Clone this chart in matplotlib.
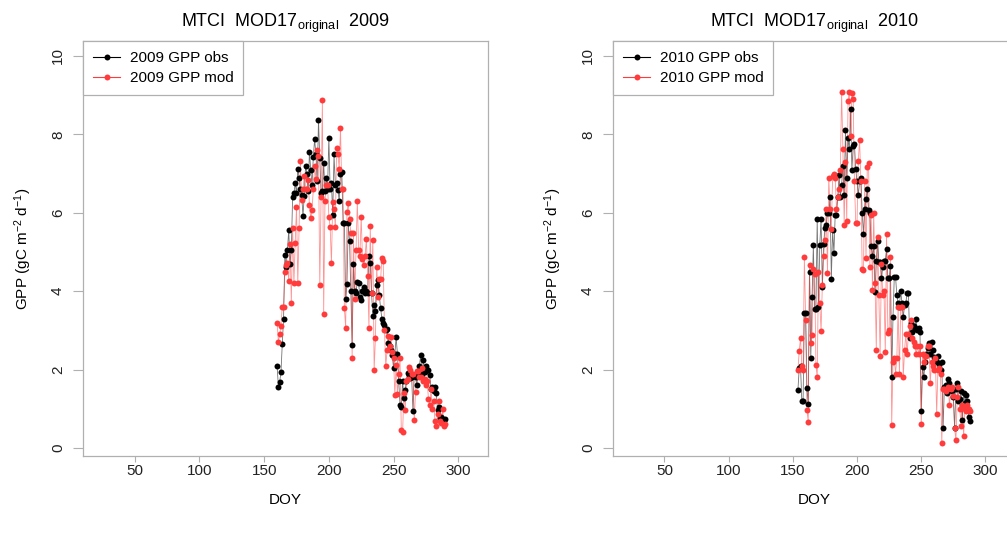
import matplotlib
matplotlib.use("Agg")
import matplotlib.pyplot as plt
import numpy as np

plt.rcParams['font.family'] = ['Liberation Sans', 'DejaVu Sans']
plt.rcParams['mathtext.fontset'] = 'custom'
plt.rcParams['mathtext.rm'] = 'Liberation Sans'
plt.rcParams['mathtext.it'] = 'Liberation Sans:italic'

# ---- 2009: daily GPP, DOY 160..290 ----
start2009 = 160
obs2009 = [
    2.10, 1.56, 1.69, 1.93, 2.65, 3.30, 4.92, 4.63, 5.05, 5.56,   # 160
    4.70, 5.05, 6.40, 6.50, 6.75, 6.50, 7.13, 6.90, 6.60, 6.45,   # 170
    5.92, 6.43, 7.20, 7.00, 6.55, 7.56, 7.10, 6.70, 7.43, 7.87,   # 180
    7.50, 6.80, 8.37, 7.39, 6.50, 6.55, 7.26, 6.55, 6.90, 6.60,   # 190
    7.92, 6.60, 6.75, 5.95, 7.49, 6.70, 6.75, 6.58, 6.31, 7.00,   # 200
    7.05, 5.73, 5.75, 3.79, 4.18, 5.73, 5.27, 4.00, 2.64, 4.69,   # 210
    4.00, 3.96, 4.24, 4.20, 3.86, 3.77, 4.00, 4.10, 3.95, 4.00,   # 220
    3.95, 4.90, 4.71, 3.95, 3.38, 3.65, 3.50, 4.15, 4.29, 3.90,   # 230
    3.56, 3.30, 3.18, 3.14, 3.01, 3.03, 2.67, 2.60, 2.50, 2.37,   # 240
    2.03, 2.40, 2.82, 2.40, 1.72, 1.10, 1.05, 1.72, 1.27, 1.48,   # 250
    1.72, 1.91, 1.85, 1.78, 1.80, 0.95, 1.85, 1.80, 1.61, 1.90,   # 260
    2.10, 2.37, 1.90, 2.25, 1.95, 2.10, 2.00, 2.00, 1.85, 1.50,   # 270
    1.55, 1.45, 1.55, 1.40, 0.97, 1.05, 0.76, 0.80, 0.75, 0.72,   # 280
    0.75,                                                         # 290
]
mod2009 = [
    3.20, 2.71, 2.90, 3.12, 3.60, 3.60, 4.48, 4.67, 4.71, 4.27,   # 160
    5.20, 3.69, 5.60, 4.20, 5.24, 6.16, 4.20, 5.60, 7.32, 6.33,   # 170
    6.60, 6.94, 6.60, 6.60, 6.84, 6.20, 5.86, 6.07, 6.60, 7.20,   # 180
    6.85, 7.60, 7.45, 4.16, 6.41, 8.88, 3.43, 6.30, 6.70, 6.70,   # 190
    5.90, 5.64, 4.71, 6.27, 6.10, 5.65, 7.66, 7.50, 7.13, 8.17,   # 200
    6.60, 6.60, 3.56, 3.07, 6.03, 6.24, 5.83, 5.49, 2.29, 5.49,   # 210
    3.79, 5.05, 6.30, 5.05, 4.90, 5.90, 4.83, 4.67, 4.90, 5.32,   # 220
    4.40, 3.05, 5.67, 3.95, 5.30, 1.99, 2.80, 4.62, 3.86, 4.30,   # 230
    4.30, 4.85, 4.78, 3.01, 2.09, 2.49, 2.85, 2.60, 2.82, 2.45,   # 240
    2.30, 1.35, 2.12, 1.38, 1.88, 2.30, 0.46, 0.40, 1.41, 0.97,   # 250
    1.70, 1.75, 2.07, 2.00, 1.90, 1.90, 0.71, 1.44, 1.97, 1.97,   # 260
    1.82, 1.82, 2.05, 1.70, 1.75, 1.60, 1.70, 1.25, 1.10, 1.50,   # 270
    1.00, 1.20, 0.70, 0.55, 0.86, 1.20, 0.70, 0.65, 1.00, 0.55,   # 280
    0.60,                                                         # 290
]

# ---- 2010: daily GPP, DOY 154..288 ----
start2010 = 154
obs2010 = [
    1.48, 2.05, 2.09, 1.20, 1.20, 3.44, 3.44, 1.52, 1.11, 4.50,   # 154
    2.29, 3.86, 5.18, 3.55, 3.55, 5.84, 3.60, 5.18, 5.84, 4.10,   # 164
    5.20, 5.60, 5.70, 5.99, 5.99, 6.40, 4.31, 5.55, 4.97, 5.95,   # 174
    5.95, 6.40, 6.96, 6.40, 6.70, 7.20, 6.45, 8.11, 6.90, 7.90,   # 184
    7.62, 8.64, 7.10, 7.70, 7.75, 7.11, 6.80, 6.45, 6.80, 6.90,   # 194
    6.00, 5.46, 6.10, 6.35, 6.60, 6.07, 6.00, 5.15, 4.90, 5.15,   # 204
    3.97, 4.77, 5.29, 4.75, 4.75, 4.33, 4.61, 4.78, 4.78, 5.07,   # 214
    4.33, 4.33, 4.65, 1.80, 3.33, 4.36, 4.36, 3.90, 3.70, 3.60,   # 224
    4.01, 3.70, 3.33, 3.65, 3.70, 3.96, 3.96, 2.80, 3.20, 2.97,   # 234
    3.10, 3.05, 3.28, 3.00, 3.05, 2.97, 0.95, 2.07, 1.80, 2.20,   # 244
    2.40, 2.55, 2.68, 2.40, 2.70, 2.50, 2.32, 2.30, 2.20, 2.35,   # 254
    2.15, 2.00, 2.20, 0.50, 1.55, 1.60, 1.40, 1.75, 1.65, 1.53,   # 264
    1.45, 1.30, 0.50, 1.50, 1.67, 1.20, 1.25, 1.45, 0.71, 1.40,   # 274
    1.15, 1.35, 1.20, 0.80, 0.70,                                 # 284
]
mod2010 = [
    2.00, 2.48, 2.81, 2.10, 2.00, 4.88, 3.27, 0.97, 0.67, 4.67,   # 154
    2.67, 2.88, 4.56, 4.45, 2.13, 1.80, 4.50, 3.69, 2.99, 4.16,   # 164
    4.90, 5.30, 6.10, 4.47, 6.90, 6.10, 5.58, 6.95, 7.00, 6.90,   # 174
    6.10, 6.41, 6.60, 7.10, 9.09, 7.62, 5.69, 7.30, 5.80, 8.86,   # 184
    9.09, 7.95, 9.06, 8.90, 6.80, 5.73, 5.75, 7.33, 7.86, 6.80,   # 194
    4.56, 4.54, 6.80, 4.84, 7.18, 7.26, 4.63, 5.94, 4.03, 6.00,   # 204
    4.20, 2.50, 5.39, 3.90, 2.35, 4.70, 3.90, 4.00, 2.46, 5.46,   # 214
    2.94, 3.00, 4.86, 0.59, 2.20, 2.30, 1.90, 2.30, 3.60, 1.90,   # 224
    3.60, 3.60, 1.80, 2.50, 2.90, 2.40, 2.90, 3.10, 3.27, 2.80,   # 234
    2.70, 2.60, 2.40, 2.60, 2.40, 2.60, 0.60, 2.40, 2.20, 2.35,   # 244
    2.35, 2.60, 2.60, 1.65, 2.20, 2.10, 2.00, 2.30, 0.88, 2.00,   # 254
    2.05, 1.90, 0.12, 1.50, 1.50, 1.45, 1.50, 1.55, 1.10, 1.50,   # 264
    1.55, 1.33, 0.50, 0.20, 1.30, 1.55, 1.00, 0.55, 1.10, 0.31,   # 274
    1.00, 0.95, 1.10, 1.00, 0.95,                                 # 284
]

xticks = [50, 100, 150, 200, 250, 300]
yticks = [0, 2, 4, 6, 8, 10]

OBS_COL = 'black'
MOD_COL = '#ff3b3b'
GREY = '#b0b0b0'

W, H = 1007, 538
TOP, BOT = 41, 456          # box edges in pixels
Y0, Y10 = 448, 56           # pixel rows of y = 0 and y = 10
ppu = (Y0 - Y10) / 10.0
ylim = (-(BOT - Y0) / ppu, 10 + (Y10 - TOP) / ppu)

fig = plt.figure(figsize=(W / 100, H / 100), dpi=100)


def panel(rect, year, start, obs, mod):
    ax = fig.add_axes(rect)
    d_obs = np.arange(start, start + len(obs))
    d_mod = np.arange(start, start + len(mod))
    ax.plot(d_obs, obs, color=OBS_COL, lw=0.6, alpha=0.55, zorder=2)
    ax.plot(d_obs, obs, 'o', color=OBS_COL, ms=4.3, mew=0, zorder=3)
    ax.plot(d_mod, mod, color=MOD_COL, lw=0.6, alpha=0.55, zorder=2)
    ax.plot(d_mod, mod, 'o', color=MOD_COL, ms=4.3, mew=0, zorder=3)

    ax.set_xlim(10, 323)
    ax.set_ylim(*ylim)
    ax.set_xticks(xticks)
    ax.set_yticks(yticks)
    ax.set_yticklabels([str(v) for v in yticks], rotation=90, va='center')
    ax.tick_params(direction='out', length=7, width=0.8, color=GREY,
                   labelsize=11, labelcolor='#222222', pad=6)
    ax.tick_params(axis='x', length=4, pad=1.5)
    for s in ax.spines.values():
        s.set_color(GREY)
        s.set_linewidth(0.9)

    ax.set_title(r'MTCI  MOD17$_{\mathrm{original}}$  %d' % year,
                 fontsize=13, pad=10)
    ax.set_xlabel('DOY', fontsize=11, labelpad=11)
    ax.set_ylabel(r'GPP (gC m$^{-2}$ d$^{-1}$)', fontsize=11, labelpad=12)

    h1, = ax.plot([], [], '-o', color=OBS_COL, lw=0.8, ms=4.3, mew=0)
    h2, = ax.plot([], [], '-o', color=MOD_COL, lw=0.8, ms=4.3, mew=0)
    leg = ax.legend([h1, h2], ['%d GPP obs' % year, '%d GPP mod' % year],
                    loc='upper left', borderaxespad=0, fancybox=False,
                    edgecolor=GREY, fontsize=11, handlelength=1.8,
                    borderpad=0.65, labelspacing=0.4, handletextpad=0.6,
                    framealpha=1)
    leg.get_frame().set_linewidth(0.9)
    return ax


bottom = 1 - BOT / H
height = (BOT - TOP) / H
panel([83 / W, bottom, 405 / W, height], 2009, start2009, obs2009, mod2009)
panel([613 / W, bottom, 402 / W, height], 2010, start2010, obs2010, mod2010)

fig.savefig('out.png', dpi=100)
